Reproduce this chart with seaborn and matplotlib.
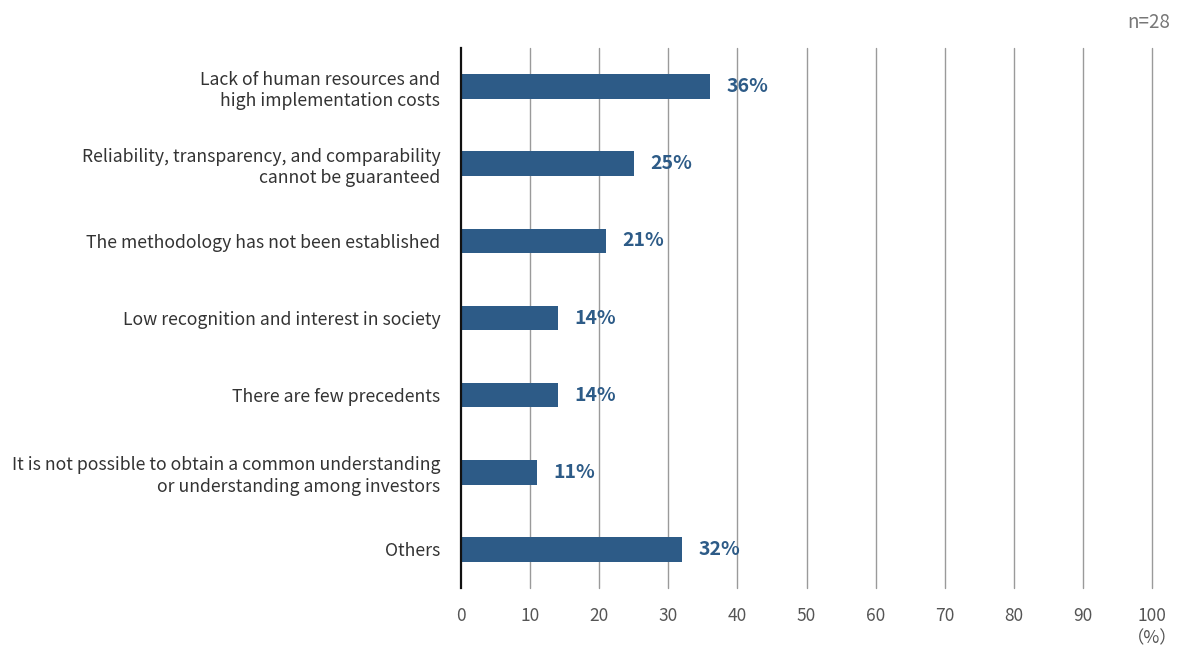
import matplotlib
matplotlib.use("Agg")
import matplotlib.pyplot as plt
import seaborn as sns
import pandas as pd

categories = [
    "Lack of human resources and\nhigh implementation costs",
    "Reliability, transparency, and comparability\ncannot be guaranteed",
    "The methodology has not been established",
    "Low recognition and interest in society",
    "There are few precedents",
    "It is not possible to obtain a common understanding\nor understanding among investors",
    "Others",
]
values = [36, 25, 21, 14, 14, 11, 32]
x_ticks = [0, 10, 20, 30, 40, 50, 60, 70, 80, 90, 100]

bar_color = "#2D5B87"

sns.set_theme(style="white")
plt.rcParams["font.family"] = ["Noto Sans CJK JP", "DejaVu Sans"]

df = pd.DataFrame({"category": categories, "value": values})

fig = plt.figure(figsize=(11.78, 6.48), dpi=100)
ax = fig.add_axes([461 / 1178, 60 / 648, 691 / 1178, 540 / 648])

sns.barplot(data=df, x="value", y="category", color=bar_color, width=0.32,
            saturation=1, linewidth=0, edgecolor=bar_color, ax=ax, zorder=3)

ax.set_xlim(0, 100)
ax.set_ylim(6.5, -0.5)
ax.set_xticks(x_ticks)
ax.set_xticklabels([str(t) for t in x_ticks])
ax.set_xlabel("")
ax.set_ylabel("")

for t in x_ticks[1:]:
    ax.axvline(t, color="#9a9a9a", lw=1.0, zorder=1, clip_on=False)

for s in ["top", "right", "bottom"]:
    ax.spines[s].set_visible(False)
ax.spines["left"].set_color("#111111")
ax.spines["left"].set_linewidth(1.6)
ax.spines["left"].set_zorder(4)

ax.tick_params(axis="x", length=0, pad=14, labelsize=12.5, labelcolor="#555555")
ax.tick_params(axis="y", length=0, pad=15, labelsize=12.7, labelcolor="#333333")
for lbl in ax.get_yticklabels():
    lbl.set_horizontalalignment("right")
    lbl.set_multialignment("right")
    lbl.set_linespacing(1.25)

for i, v in enumerate(values):
    ax.annotate(f"{v}%", xy=(v, i), xytext=(12, 0), textcoords="offset points",
                ha="left", va="center", fontsize=14, fontweight="bold",
                color=bar_color, zorder=5)

fig.text(1170 / 1178, 1 - 22 / 648, "n=28", ha="right", va="center",
         fontsize=13.5, color="#777777")
fig.text(1152 / 1178, 1 - 638 / 648, "（%）", ha="center", va="center",
         fontsize=12.5, color="#555555")

fig.savefig("out.png", dpi=100)
